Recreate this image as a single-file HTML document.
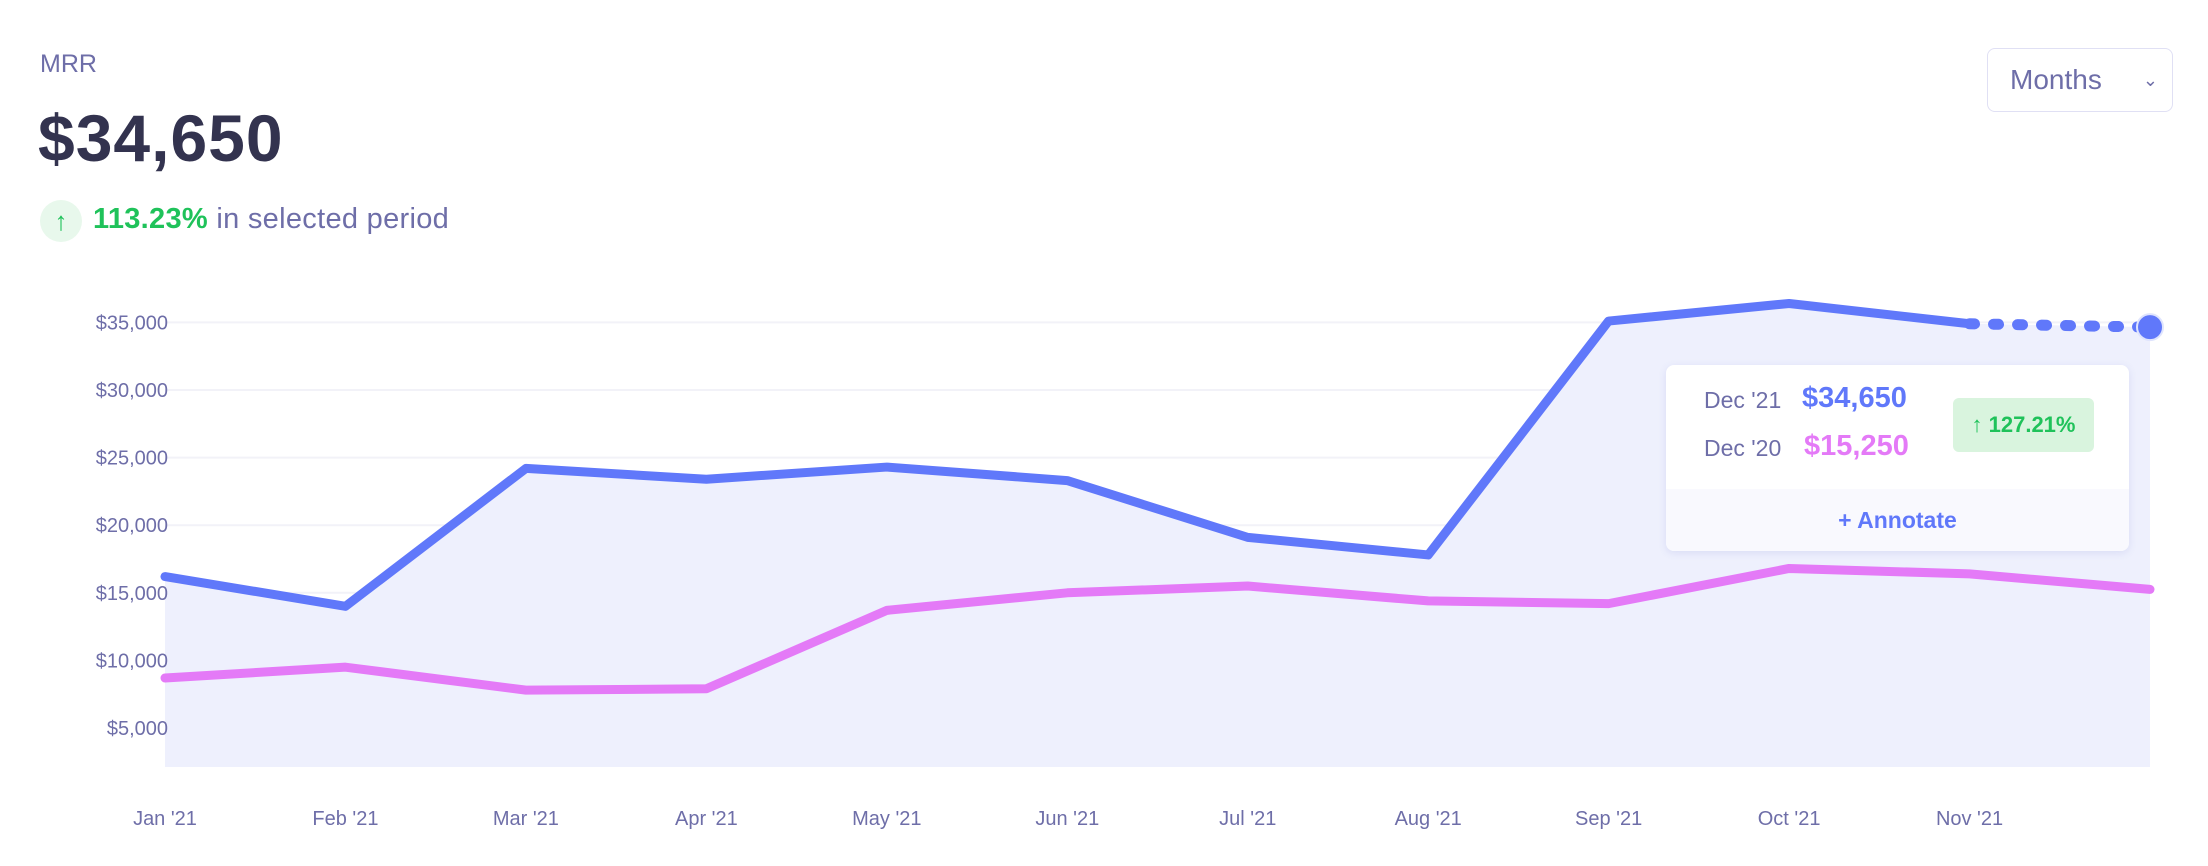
<!DOCTYPE html>
<html><head><meta charset="utf-8"><style>
body{margin:0;width:2208px;height:866px;background:#fff;font-family:"Liberation Sans",sans-serif;overflow:hidden;position:relative}
.abs{position:absolute}
</style></head><body>
<div class="abs" style="left:40px;top:50px;font-size:25px;color:#6e6ea8">MRR</div>
<div class="abs" style="left:38px;top:100px;font-size:66px;font-weight:bold;color:#33334f;letter-spacing:1px">$34,650</div>
<div class="abs" style="left:40px;top:200px;width:42px;height:42px;border-radius:50%;background:#e8f8ec;color:#1fc25a;font-size:26px;font-weight:bold;text-align:center;line-height:42px">↑</div>
<div class="abs" style="left:93px;top:203px;font-size:29px;color:#6e6ea8;letter-spacing:0.3px"><b style="color:#1fc25a">113.23%</b> in selected period</div>
<div class="abs" style="left:1987px;top:48px;width:186px;height:64px;border:1px solid #e0e0f4;border-radius:8px;box-sizing:border-box;font-size:28px;color:#6e6ea8;line-height:62px;padding-left:22px">Months<span style="position:absolute;right:14px;font-size:18px">⌄</span></div>
<svg class="abs" style="left:0;top:0" width="2208" height="866">
<g id="grid"></g><g id="area"></g><g id="lines"></g><g id="labels"></g>
</svg>
<div class="abs" style="left:1666px;top:365px;width:463px;height:186px;background:#fff;border-radius:8px;box-shadow:0 2px 8px rgba(100,110,200,0.15);overflow:hidden">
 <div class="abs" style="left:38px;top:22px;font-size:23px;color:#6e6ea8">Dec '21</div>
 <div class="abs" style="left:136px;top:17px;font-size:29px;font-weight:bold;color:#6078fa">$34,650</div>
 <div class="abs" style="left:38px;top:70px;font-size:23px;color:#6e6ea8">Dec '20</div>
 <div class="abs" style="left:138px;top:65px;font-size:29px;font-weight:bold;color:#e47af7">$15,250</div>
 <div class="abs" style="left:287px;top:33px;width:141px;height:54px;background:#d9f4de;border-radius:6px;color:#1fc25a;font-size:22px;font-weight:bold;text-align:center;line-height:54px">↑ 127.21%</div>
 <div class="abs" style="left:0;top:124px;width:463px;height:62px;background:#f9f9fe;color:#6078fa;font-size:23px;font-weight:bold;text-align:center;line-height:62px">+ Annotate</div>
</div>
<script>
const months=["Jan '21","Feb '21","Mar '21","Apr '21","May '21","Jun '21","Jul '21","Aug '21","Sep '21","Oct '21","Nov '21","Dec '21"];
const current=[16200,14000,24200,23400,24300,23300,19100,17800,35100,36400,34900,34650];
const previous=[8700,9500,7800,7900,13700,15000,15500,14400,14200,16800,16400,15250];
const yTicks=[5000,10000,15000,20000,25000,30000,35000];
const NS="http://www.w3.org/2000/svg";
const x0=165,x1=2150,yZero=795.6,pxPer=67.6/5000,bottom=767;
const X=i=>x0+i*(x1-x0)/(months.length-1);
const Y=v=>yZero-v*pxPer;
function mk(tag,parent,attrs){const e=document.createElementNS(NS,tag);for(const k in attrs)e.setAttribute(k,attrs[k]);document.getElementById(parent).appendChild(e);return e;}
yTicks.forEach(t=>{
 const l=mk('line','grid',{x1:x0,x2:x1,y1:Y(t),y2:Y(t),stroke:'#f2f2f8','stroke-width':2});
 
 
 const tx=mk('text','labels',{x:168,y:Y(t)+7,'text-anchor':'end','font-size':20,fill:'#6e6ea8','font-family':'Liberation Sans'});
 tx.textContent='$'+t.toLocaleString('en-US');
 
 
});
months.forEach((m,i)=>{
 if(i===months.length-1)return;
 const tx=mk('text','labels',{x:X(i),y:825,'text-anchor':'middle','font-size':20,fill:'#6e6ea8','font-family':'Liberation Sans'});
 tx.textContent=m;
 
 
});
let ad='M'+X(0)+','+bottom;current.forEach((v,i)=>ad+=' L'+X(i)+','+Y(v));ad+=' L'+X(current.length-1)+','+bottom+' Z';
const area=mk('path','area',{d:ad,fill:'#eef0fd'});


const n=current.length;
const pp=previous.map((v,i)=>X(i)+','+Y(v)).join(' ');
const pl=mk('polyline','lines',{points:pp,fill:'none',stroke:'#e47af7','stroke-width':9,'stroke-linejoin':'round','stroke-linecap':'round'});


const cp=current.slice(0,n-1).map((v,i)=>X(i)+','+Y(v)).join(' ');
const cl=mk('polyline','lines',{points:cp,fill:'none',stroke:'#6078fa','stroke-width':9,'stroke-linejoin':'round','stroke-linecap':'round'});


const dl=mk('line','lines',{x1:X(n-2),y1:Y(current[n-2]),x2:X(n-1),y2:Y(current[n-1]),stroke:'#6078fa','stroke-width':11,'stroke-linecap':'round','stroke-dasharray':'5 19'});


const dot=mk('circle','lines',{cx:X(n-1),cy:Y(current[n-1]),r:13,fill:'#6078fa',stroke:'#dfe4fd','stroke-width':2});


</script>
</body></html>
